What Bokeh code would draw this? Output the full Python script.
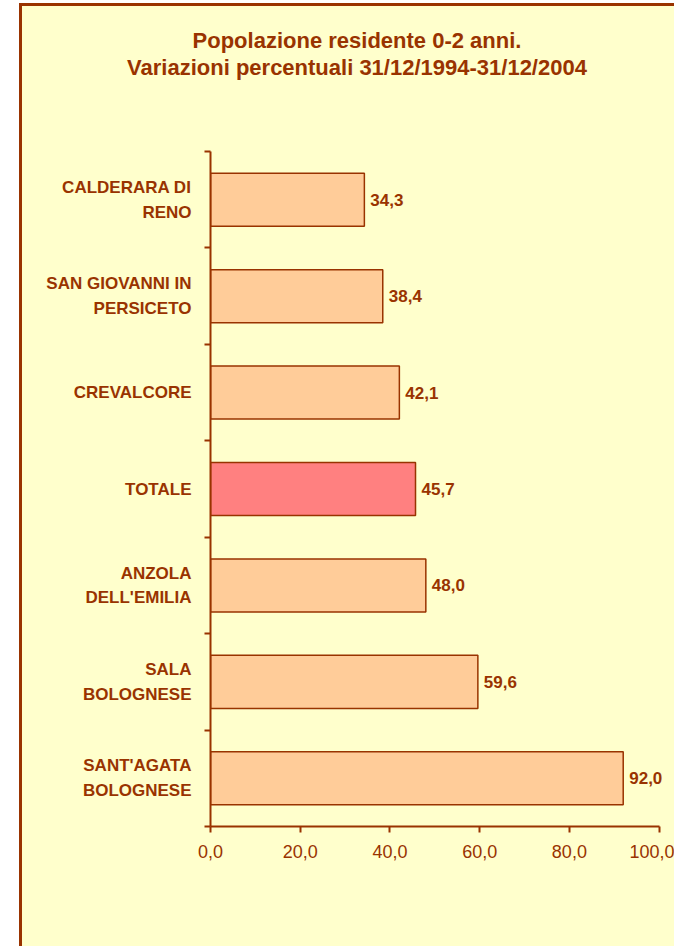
from bokeh.plotting import figure
from bokeh.layouts import column
from bokeh.models import (Range1d, LinearAxis, FixedTicker, Div,
                          ColumnDataSource, CustomJSTickFormatter)
from bokeh.core.properties import value
from bokeh.embed import file_html
from bokeh.resources import INLINE

# ---- data (top to bottom as shown) ----
categories = ["CALDERARA DI\nRENO", "SAN GIOVANNI IN\nPERSICETO", "CREVALCORE", "TOTALE",
              "ANZOLA\nDELL'EMILIA", "SALA\nBOLOGNESE", "SANT'AGATA\nBOLOGNESE"]
values = [34.3, 38.4, 42.1, 45.7, 48.0, 59.6, 92.0]
x_ticks = [0, 20, 40, 60, 80, 100]
title_lines = ["Popolazione residente 0-2 anni.",
               "Variazioni percentuali 31/12/1994-31/12/2004"]
highlight = "TOTALE"

# ---- styles ----
BG = "#FFFFCC"
DARK = "#993300"
BAR = "#FFCC99"
HI = "#FF8080"
FONT = "Liberation Sans"
BORDER = f"3px solid {DARK}"

n = len(categories)
ypos = [n - i - 0.5 for i in range(n)]      # slot centres, first category on top
bounds_y = list(range(n + 1))               # slot boundaries (tick marks)

src = ColumnDataSource(dict(
    y=ypos,
    val=values,
    label=[f"{v:.1f}".replace(".", ",") for v in values],
    color=[HI if c == highlight else BAR for c in categories],
))

# ---- title block ----
title_html = (
    f"<div style=\"box-sizing:border-box; width:652px; padding:22px 0 0 18px;"
    f" text-align:center; font-family:'{FONT}'; font-size:22px; font-weight:bold;"
    f" line-height:26.6px; color:{DARK};\">"
    + "<br>".join(title_lines) + "</div>"
)
title_div = Div(text=title_html, width=655, height=103, margin=0,
                styles={"background-color": BG, "border-left": BORDER, "border-top": BORDER})

# ---- chart ----
p = figure(width=655, height=840,
           y_range=Range1d(0, n),
           x_range=Range1d(0, 104.1),
           output_backend="svg", toolbar_location=None,
           x_axis_location=None, y_axis_location=None,
           min_border_left=188, min_border_right=0, min_border_top=45, min_border_bottom=120,
           background_fill_color=BG, border_fill_color=BG, outline_line_color=None,
           margin=0)
p.styles = {"border-left": BORDER}
p.grid.grid_line_color = None

xaxis = LinearAxis(ticker=FixedTicker(ticks=x_ticks), bounds=(x_ticks[0], x_ticks[-1]),
                   formatter=CustomJSTickFormatter(code="return tick.toFixed(1).replace('.', ',')"),
                   axis_line_color=DARK, axis_line_width=2,
                   major_tick_line_color=DARK, major_tick_line_width=2,
                   major_tick_in=0, major_tick_out=6, minor_tick_line_color=None,
                   major_label_text_font=FONT, major_label_text_font_size="18px",
                   major_label_text_color=DARK, major_label_standoff=12)
p.add_layout(xaxis, "below")

# y axis: labels at slot centres, tick marks at slot boundaries (minor ticks)
yaxis = LinearAxis(ticker=FixedTicker(ticks=ypos, minor_ticks=bounds_y),
                   major_label_overrides={y: c for y, c in zip(ypos, categories)},
                   axis_line_color=DARK, axis_line_width=2,
                   major_tick_line_color=None, major_tick_in=0, major_tick_out=0,
                   minor_tick_line_color=DARK, minor_tick_line_width=2,
                   minor_tick_in=0, minor_tick_out=6,
                   major_label_text_font=FONT, major_label_text_font_size="17px",
                   major_label_text_font_style="bold", major_label_text_color=DARK,
                   major_label_text_line_height=1.3, major_label_standoff=13)
p.add_layout(yaxis, "left")

p.hbar(y="y", left=0, right="val", height=0.55, fill_color="color",
       line_color=DARK, line_width=1.5, source=src)
p.text(x="val", y="y", text="label", x_offset=6, text_align="left", text_baseline="middle",
       text_font=value(FONT), text_font_size="17px", text_font_style="bold",
       text_color=DARK, source=src)

page = column(title_div, p, spacing=0,
              styles={"margin-left": "19px", "margin-top": "3px", "background-color": BG})

open("out.html", "w").write(file_html(page, INLINE))
